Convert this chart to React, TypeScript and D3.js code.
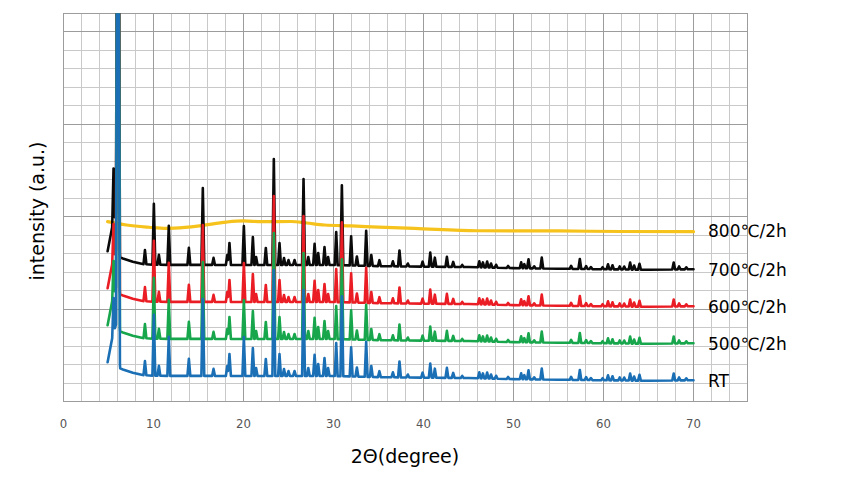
import React from "react";
import * as d3 from "d3";

const W = 868;
const H = 478;

// x axis (2θ, degree)
const xTickLabels = [0, 10, 20, 30, 40, 50, 60, 70];
const xDomainMax = 76;
const yDomainMax = 2100;

// series (crystalline patterns, stacked with offsets)
const seriesLabels = ["RT", "500℃/2h", "600℃/2h", "700℃/2h"];
const seriesOffsets = [0, 200, 400, 600];
const seriesColors = ["#1b6fb5", "#17a64c", "#ea1c24", "#0a0a0a"];
const lowAnglePeakHeights = [190, 190, 190, 290]; // peak at 5.56°
const lowAnglePeakPos = 5.56;
const mainPeakPos = 6.05;
const mainPeakHeight = 3600;

// shared background (RT frame)
const baseTheta = [4.9, 5.2, 5.44, 5.67, 5.9, 6.3, 6.6, 7.7, 8.8, 10, 20, 30, 35, 40, 45, 50, 55, 60, 65, 70];
const baseIntensity = [213, 290, 350, 390, 430, 180, 174, 157, 144, 140, 139, 139, 133, 130, 128, 122, 119, 116, 113, 116];

// reflections: positions (2θ) and heights above background
const peakPos = [
  9.05, 10.04, 10.6, 11.7, 13.93, 15.48, 16.67, 18.2, 18.44, 20.04,
  21.04, 21.4, 22.48, 23.37, 24.0, 24.5, 25.0, 25.67, 26.67, 27.2,
  27.9, 28.3, 29.0, 29.4, 30.3, 30.93, 31.96, 32.6, 33.63, 34.2,
  35.1, 36.6, 37.33, 38.26, 39.9, 40.75, 41.26, 42.6, 43.3, 44.3,
  46.2, 46.6, 47.07, 47.5, 48.07, 49.4, 50.85, 51.2, 51.67, 52.3,
  53.14, 56.4, 57.37, 58.07, 58.6, 59.9, 60.5, 61.0, 61.8, 62.3,
  62.96, 63.4, 64.0, 67.8, 68.4, 69.2,
];
const peakHeight = [
  76, 330, 54, 211, 92, 416, 38, 54, 119, 211,
  151, 43, 92, 573, 119, 38, 27, 27, 465, 43,
  114, 65, 97, 43, 178, 432, 157, 49, 189, 59,
  32, 27, 86, 16, 27, 76, 49, 54, 27, 11,
  32, 27, 32, 22, 16, 11, 32, 22, 49, 11,
  59, 16, 54, 16, 11, 11, 27, 22, 16, 16,
  38, 22, 32, 38, 16, 11,
];

// 800℃/2h amorphous pattern
const amorphousLabel = "800℃/2h";
const amorphousColor = "#f6c21c";
const amorphousTheta = [4.9, 6.0, 7.0, 9.5, 11.4, 13.5, 15.1, 18.1, 20.0, 22, 25.3, 27.0, 29, 32, 35, 39, 46, 55, 62, 70];
const amorphousIntensity = [973, 963, 955, 943, 937, 942, 950, 971, 977, 973, 974, 966, 955, 950, 944, 937, 924, 923, 920, 919];

const left = 63.5;
const right = 747.5;
const top = 13.2;
const bottom = 401.7;

export default function App() {
  const x = d3.scaleLinear().domain([0, xDomainMax]).range([left, right]);
  const y = d3.scaleLinear().domain([0, yDomainMax]).range([bottom, top]);
  const baseAt = d3.scaleLinear().domain(baseTheta).range(baseIntensity).clamp(true);

  const line = d3
    .line<[number, number]>()
    .x((d) => x(d[0]))
    .y((d) => y(d[1]));
  const smooth = d3
    .line<[number, number]>()
    .x((d) => x(d[0]))
    .y((d) => y(d[1]))
    .curve(d3.curveMonotoneX);

  const buildSeries = (si: number): [number, number][] => {
    const peaks = [
      { p: lowAnglePeakPos, h: lowAnglePeakHeights[si], w: 0.15 },
      { p: mainPeakPos, h: mainPeakHeight, w: 0.22 },
      ...peakPos.map((p, i) => ({ p, h: peakHeight[i], w: 0.16 })),
    ];
    const set = new Set<number>(baseTheta);
    peaks.forEach((pk) => {
      set.add(+(pk.p - pk.w).toFixed(3));
      set.add(pk.p);
      set.add(+(pk.p + pk.w).toFixed(3));
    });
    const lo = baseTheta[0];
    const hi = baseTheta[baseTheta.length - 1];
    const xs = [...set].filter((v) => v >= lo && v <= hi).sort((a, b) => a - b);
    return xs.map((t) => {
      const extra = d3.max(peaks, (pk) => Math.max(0, pk.h * (1 - Math.abs(t - pk.p) / pk.w))) || 0;
      return [t, seriesOffsets[si] + baseAt(t) + extra];
    });
  };

  const series = seriesLabels.map((_, i) => buildSeries(i));
  const amorphous: [number, number][] = amorphousTheta.map((t, i) => [t, amorphousIntensity[i]]);

  const vGrid = d3.range(0, xDomainMax + 1, 2);
  const hGrid = d3.range(0, yDomainMax + 1, 100);
  const minor = "#c9c9c9";
  const major = "#9c9c9c";

  const labelFont = "'DejaVu Sans', 'Noto Sans', sans-serif";

  return (
    <svg
      width={W}
      height={H}
      viewBox={`0 0 ${W} ${H}`}
      style={{ position: "absolute", left: 0, top: 0, background: "#fff" }}
    >
      <defs>
        <clipPath id="plotClip">
          <rect x={left} y={top} width={right - left} height={bottom - top} />
        </clipPath>
      </defs>
      <rect x={0} y={0} width={W} height={H} fill="#fff" />
      {/* grid */}
      <g shapeRendering="crispEdges">
        {vGrid.filter((t) => t % 10 !== 0 && t !== xDomainMax).map((t) => (
          <line key={"v" + t} x1={x(t)} x2={x(t)} y1={top} y2={bottom} stroke={minor} strokeWidth={1} />
        ))}
        {hGrid.filter((v) => v % 500 !== 0 && v !== yDomainMax).map((v) => (
          <line key={"h" + v} x1={left} x2={right} y1={y(v)} y2={y(v)} stroke={minor} strokeWidth={1} />
        ))}
        {vGrid.filter((t) => t % 10 === 0 || t === xDomainMax).map((t) => (
          <line key={"V" + t} x1={x(t)} x2={x(t)} y1={top} y2={bottom} stroke={major} strokeWidth={1} />
        ))}
        {hGrid.filter((v) => v % 500 === 0 || v === yDomainMax).map((v) => (
          <line key={"H" + v} x1={left} x2={right} y1={y(v)} y2={y(v)} stroke={major} strokeWidth={1} />
        ))}
      </g>

      {/* data */}
      <g clipPath="url(#plotClip)" fill="none" strokeLinejoin="round" strokeLinecap="round">
        <path d={smooth(amorphous) || ""} stroke={amorphousColor} strokeWidth={3.2} />
        {[3, 2, 1, 0].map((i) => (
          <path key={i} d={line(series[i]) || ""} stroke={seriesColors[i]} strokeWidth={2.6} />
        ))}
      </g>

      {/* x tick labels */}
      {xTickLabels.map((t) => (
        <text
          key={"t" + t}
          x={x(t)}
          y={428}
          textAnchor="middle"
          fontSize={13}
          fill="#555"
          fontFamily="'Liberation Sans Narrow', 'DejaVu Sans Condensed', sans-serif"
        >
          {t}
        </text>
      ))}

      {/* series labels */}
      <text x={708} y={y(amorphousIntensity[amorphousIntensity.length - 1]) + 5} fontSize={17} fontFamily={labelFont} fill="#000">
        {amorphousLabel}
      </text>
      {seriesLabels.map((lab, i) => (
        <text
          key={lab}
          x={708}
          y={y(seriesOffsets[i] + baseIntensity[baseIntensity.length - 1]) + 6.5}
          fontSize={17}
          fontFamily={labelFont}
          fill="#000"
        >
          {lab}
        </text>
      ))}

      {/* axis titles */}
      <text x={405} y={463} textAnchor="middle" fontSize={19} fontFamily={labelFont} fill="#000">
        2Θ(degree)
      </text>
      <text
        transform="translate(44,211) rotate(-90)"
        textAnchor="middle"
        fontSize={19}
        fontFamily={labelFont}
        fill="#000"
      >
        intensity (a.u.)
      </text>
    </svg>
  );
}
